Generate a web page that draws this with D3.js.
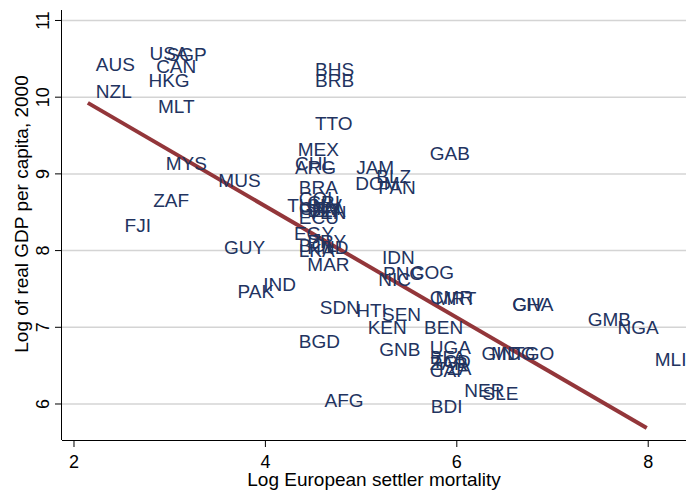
<!DOCTYPE html>
<html>
<head>
<meta charset="utf-8">
<script src="https://cdn.jsdelivr.net/npm/d3@7"></script>
<style>
  html, body { margin: 0; padding: 0; background: #fff; }
  svg { display: block; font-family: "Liberation Sans", Arial, sans-serif; }
  .country { font-size: 19px; fill: #22335f; }
  .tick text { font-size: 18px; fill: #000; }
  .axis-title { font-size: 19px; fill: #000; }
</style>
</head>
<body>
<svg id="chart" width="686" height="490"></svg>
<script>
// country codes, log settler mortality, log GDP per capita 2000
const codes = ["AUS","NZL","USA","SGP","CAN","HKG","MLT","BHS","BRB","TTO",
  "MEX","CHL","ARG","JAM","DOM","BLZ","PAN","GAB","MYS","MUS",
  "ZAF","FJI","GUY","BRA","COL","TUN","SLV","CRI","GTM","PER",
  "DZA","VEN","ECU","EGY","PRY","BOL","HND","LKA","MAR","IDN",
  "PNG","COG","NIC","PAK","IND","SDN","HTI","SEN","KEN","BEN",
  "BGD","GNB","UGA","BFA","TCD","ZAR","CAF","TZA","CMR","MRT",
  "GHA","CIV","GIN","MDG","TGO","NER","SLE","BDI","AFG","GMB",
  "NGA","MLI"];
const logMort = [2.15,2.15,2.71,2.89,2.78,2.70,2.80,4.44,4.44,4.44,
  4.26,4.23,4.23,4.87,4.86,5.08,5.10,5.64,2.88,3.43,
  2.75,2.45,3.49,4.27,4.27,4.15,4.36,4.36,4.27,4.27,
  4.36,4.36,4.27,4.22,4.36,4.27,4.36,4.27,4.36,5.14,
  5.15,5.44,5.10,3.63,3.90,4.49,4.87,5.14,4.99,5.58,
  4.27,5.11,5.64,5.64,5.66,5.64,5.64,5.70,5.64,5.70,
  6.50,6.50,6.18,6.28,6.51,6.00,6.19,5.65,4.54,7.29,
  7.60,7.99];
const logGDP = [10.42,10.07,10.57,10.55,10.40,10.22,9.88,10.36,10.22,9.65,
  9.32,9.13,9.08,9.08,8.87,8.96,8.82,9.27,9.13,8.91,
  8.65,8.32,8.04,8.82,8.68,8.58,8.59,8.62,8.55,8.52,
  8.52,8.50,8.43,8.22,8.12,8.06,8.04,8.00,7.81,7.91,
  7.70,7.71,7.62,7.47,7.55,7.26,7.22,7.16,7.00,7.00,
  6.81,6.71,6.74,6.61,6.55,6.52,6.44,6.46,7.39,7.37,
  7.29,7.29,6.66,6.66,6.66,6.18,6.14,5.96,6.04,7.10,
  6.99,6.58];

// fitted line
const fitIntercept = 11.48;
const fitSlope = -0.726;

const xTicks = [2, 4, 6, 8];
const yTicks = [6, 7, 8, 9, 10, 11];

const svg = d3.select("#chart");
const plotLeft = 62, plotRight = 686, plotTop = 10, plotBottom = 440;

const x = d3.scaleLinear().domain([1.88, 8.40]).range([plotLeft, plotRight]);
const y = d3.scaleLinear().domain([5.524, 11.13]).range([plotBottom, plotTop]);

// grid
svg.append("g")
  .attr("transform", `translate(${plotLeft},0)`)
  .call(d3.axisLeft(y).tickValues(yTicks).tickSize(-(plotRight - plotLeft)).tickFormat(""))
  .call(g => g.select(".domain").remove())
  .call(g => g.selectAll("line").attr("stroke", "#d4d4d4").attr("stroke-width", 1.5));

// fitted line
const xs = d3.extent(logMort);
svg.append("line")
  .attr("x1", x(xs[0])).attr("y1", y(fitIntercept + fitSlope * xs[0]))
  .attr("x2", x(xs[1])).attr("y2", y(fitIntercept + fitSlope * xs[1]))
  .attr("stroke", "#93363a")
  .attr("stroke-width", 4);

// country labels
const data = codes.map((c, i) => ({ code: c, mort: logMort[i], gdp: logGDP[i] }));
svg.append("g").selectAll("text")
  .data(data)
  .enter()
  .append("text")
  .attr("class", "country")
  .attr("x", d => x(d.mort) + 8)
  .attr("y", d => y(d.gdp))
  .attr("dy", "0.36em")
  .text(d => d.code);

// x axis
svg.append("g")
  .attr("transform", `translate(0,${plotBottom})`)
  .call(d3.axisBottom(x).tickValues(xTicks).tickFormat(d3.format("d"))
    .tickSize(7).tickSizeOuter(0).tickPadding(8))
  .call(g => g.select(".domain").attr("d", `M${plotLeft},0.5H${plotRight}`));

// y axis
svg.append("g")
  .attr("transform", `translate(${plotLeft},0)`)
  .call(d3.axisLeft(y).tickValues(yTicks).tickFormat(d3.format("d"))
    .tickSize(7).tickSizeOuter(0))
  .call(g => g.select(".domain").attr("d", `M-0.5,${plotTop}V${plotBottom}`))
  .call(g => g.selectAll(".tick text")
    .attr("transform", "rotate(-90)")
    .attr("x", 0)
    .attr("y", -13)
    .attr("dy", 0)
    .attr("text-anchor", "middle"));

svg.append("text")
  .attr("class", "axis-title")
  .attr("x", (plotLeft + plotRight) / 2)
  .attr("y", 486)
  .attr("text-anchor", "middle")
  .text("Log European settler mortality");

svg.append("text")
  .attr("class", "axis-title")
  .attr("transform", "translate(28,214) rotate(-90)")
  .attr("text-anchor", "middle")
  .text("Log of real GDP per capita, 2000");
</script>
</body>
</html>
